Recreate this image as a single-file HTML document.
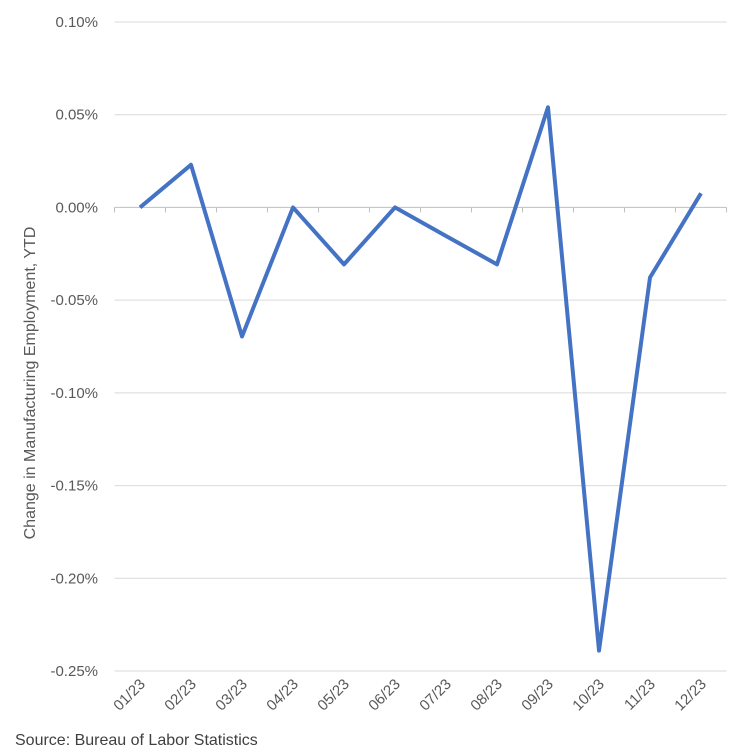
<!DOCTYPE html>
<html><head><meta charset="utf-8"><style>
body{margin:0;background:#fff;}
svg text{font-family:"Liberation Sans",Calibri,sans-serif;fill:#595959;}
</style></head><body>
<svg width="750" height="750">
<g id="grid"></g>
<g id="yt"></g>
<g id="xt"></g>
<path id="line" fill="none" stroke="#4472C4" stroke-width="4" stroke-linejoin="round"/>
<text transform="translate(35,383) rotate(-90)" text-anchor="middle" font-size="16">Change in Manufacturing Employment, YTD</text>
<text x="15" y="745" font-size="16" style="fill:#404040">Source: Bureau of Labor Statistics</text>
</svg>
<script>
const categories=["01/23","02/23","03/23","04/23","05/23","06/23","07/23","08/23","09/23","10/23","11/23","12/23"];
const values=[0,0.023,-0.0696,0,-0.0307,0,-0.0154,-0.0307,0.054,-0.239,-0.0378,0.0076];
const yTicks=[0.10,0.05,0,-0.05,-0.10,-0.15,-0.20,-0.25];
const yTickLabels=["0.10%","0.05%","0.00%","-0.05%","-0.10%","-0.15%","-0.20%","-0.25%"];
const NS="http://www.w3.org/2000/svg";
const L=114.5,R=726.5,T=22,B=671,ymax=0.10,ymin=-0.25;
const y=v=>T+(ymax-v)/(ymax-ymin)*(B-T);
const bw=(R-L)/categories.length;
const x=i=>L+bw*(i+0.5);
const g=document.getElementById('grid'),yt=document.getElementById('yt'),xt=document.getElementById('xt');
yTicks.forEach((v,i)=>{
 const ln=document.createElementNS(NS,'line');
 
 
 ln.setAttribute('x1',L);ln.setAttribute('x2',R);ln.setAttribute('y1',y(v));ln.setAttribute('y2',y(v));
 ln.setAttribute('stroke',v===0?'#bfbfbf':'#d9d9d9');ln.setAttribute('stroke-width',1);
 g.appendChild(ln);
 const t=document.createElementNS(NS,'text');
 
 
 t.setAttribute('x',98);t.setAttribute('y',y(v)+5);t.setAttribute('text-anchor','end');t.setAttribute('font-size','15');
 t.textContent=yTickLabels[i];yt.appendChild(t);
});
for(let i=0;i<=categories.length;i++){
 const tk=document.createElementNS(NS,'line');
 
 
 const xx=L+bw*i;
 tk.setAttribute('x1',xx);tk.setAttribute('x2',xx);tk.setAttribute('y1',y(0));tk.setAttribute('y2',y(0)+5);
 tk.setAttribute('stroke','#bfbfbf');g.appendChild(tk);
}
categories.forEach((c,i)=>{
 const t=document.createElementNS(NS,'text');
 
 
 t.setAttribute('text-anchor','end');t.setAttribute('font-size','15');
 t.setAttribute('transform',`translate(${x(i)+6},${B+14}) rotate(-45)`);
 t.textContent=c;xt.appendChild(t);
});
document.getElementById('line').setAttribute('d',values.map((v,i)=>(i?'L':'M')+x(i)+','+y(v)).join(' '));
</script>
</body></html>
